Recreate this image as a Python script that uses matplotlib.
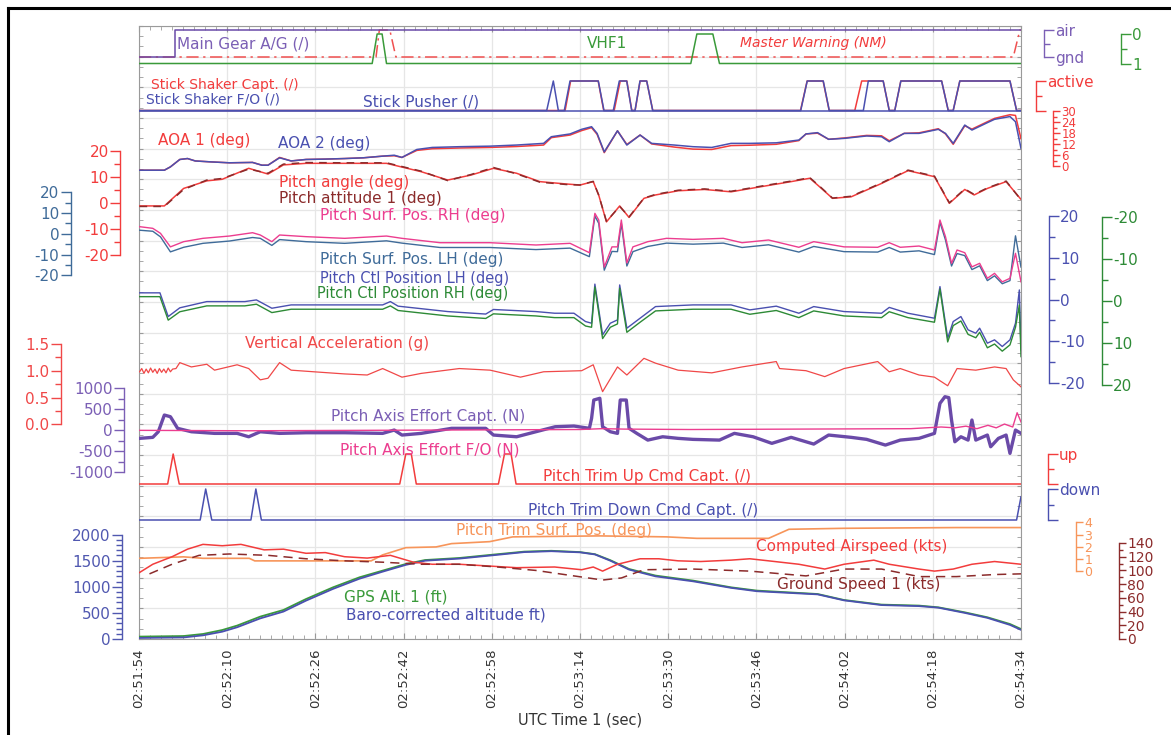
import numpy as np
import matplotlib.pyplot as plt
from matplotlib.lines import Line2D

plt.rcParams['axes.unicode_minus'] = False

# picture size and plot box (pixels of the 1171x735 picture)
W, H = 1171, 735
PX0, PX1, PY0, PY1 = 139, 1021, 26, 639

# ---------------- data (time in s after 02:51:54) ----------------
TIME_TICKS = np.arange(0, 161, 16)
TIME_LABELS = ['02:51:54', '02:52:10', '02:52:26', '02:52:42', '02:52:58', '02:53:14',
               '02:53:30', '02:53:46', '02:54:02', '02:54:18', '02:54:34']

GEAR_t = [0, 6.5, 6.5, 160]
GEAR_v = [0, 0, 1, 1]
MW_t = [0, 43.0, 43.6, 45.5, 46.6, 158.6, 159.8, 160]
MW_v = [0, 0, 1, 1, 0, 0, 1, 1]
VHF_t = [0, 42.3, 43.2, 44.1, 44.9, 100.1, 101.2, 104.1, 105.3, 160]
VHF_v = [1, 1, 0, 0, 1, 1, 0, 0, 1, 1]

SHK_FO_t = [0, 73.96, 75.16, 76.07, 77.15, 78.19, 83.32, 84.35, 86.04, 87.13, 88.47, 89.38,
            89.98, 90.88, 92.10, 93.19, 120.04, 121.22, 124.13, 125.22, 131.4, 132.3, 135.0, 136.1,
            137.1, 138.2, 145.6, 146.8, 147.7, 148.9, 158.0, 159.2, 160]
SHK_FO_v = [0, 0, 1, 0, 0, 1, 1, 0, 0, 1, 1, 0, 0, 1, 1, 0, 0, 1, 1, 0, 0, 1, 1, 0,
            0, 1, 1, 0, 0, 1, 1, 0, 0]
SHK_CPT_t = [0, 77.3, 78.3, 83.3, 84.3, 86.2, 87.3, 88.5, 89.4, 90.0, 90.9, 92.1, 93.2,
             120.0, 121.2, 124.1, 125.2, 129.85, 131.1, 135.0, 136.1, 137.1, 138.2, 145.6, 146.8,
             147.7, 148.9, 158.0, 159.2, 160]
SHK_CPT_v = [0, 0, 1, 1, 0, 0, 1, 1, 0, 0, 1, 1, 0, 0, 1, 1, 0, 0, 1, 1, 0, 0, 1, 1, 0,
             0, 1, 1, 0, 0]
PUSHER_t = [0, 160]
PUSHER_v = [0, 0]

AOA_t = [0.1, 4.6, 5.7, 7.4, 8.8, 10.2, 13.0, 16.4, 20.6, 22.3, 23.4, 25.5, 27.6, 30.3, 33.8,
         37.3, 40.7, 44.2, 46.3, 47.7, 50.4, 53.2, 58.1, 63.7, 68.5, 73.4, 74.8, 78.2, 80.3, 82.1,
         83.1, 84.4, 86.8, 88.5, 90.9, 93.0, 97.1, 100.5, 103.9, 107.4, 110.8, 115.6, 119.7, 121.0,
         123.1, 125.1, 127.9, 132.0, 134.7, 136.1, 138.8, 141.5, 145.0, 146.3, 147.7, 149.8, 151.1,
         153.9, 155.2, 158.0, 159.0, 160.0]
AOA2 = [-2.0, -2.0, -0.2, 3.8, 4.3, 3.0, 2.5, 2.0, 2.2, 0.7, 0.7, 4.7, 3.0, 3.8, 4.0, 4.3, 4.7,
        5.6, 6.1, 4.9, 9.2, 10.3, 10.7, 11.0, 11.6, 12.5, 16.1, 17.6, 20.1, 21.5, 17.9, 7.9, 19.3,
        11.6, 17.0, 12.5, 11.6, 10.7, 10.3, 12.5, 12.5, 12.8, 14.3, 17.6, 18.3, 14.7, 15.2, 16.5,
        16.1, 13.4, 17.9, 17.9, 20.1, 17.9, 12.5, 22.4, 19.7, 23.7, 25.5, 27.0, 24.2, 9.8]
AOA1 = [-2.0, -2.0, -0.2, 3.8, 4.3, 3.0, 2.5, 2.0, 2.2, 0.7, 0.7, 4.9, 3.0, 3.8, 4.0, 4.3, 4.7,
        5.6, 5.8, 4.9, 8.7, 9.6, 10.0, 10.3, 10.8, 11.6, 15.6, 17.0, 19.4, 21.0, 17.4, 7.5, 19.3,
        11.9, 17.0, 12.2, 10.5, 9.4, 9.2, 11.3, 11.5, 12.0, 14.0, 17.6, 18.0, 14.7, 15.4, 16.8,
        16.6, 13.9, 17.9, 18.2, 20.4, 17.6, 12.0, 22.0, 20.2, 24.2, 26.0, 28.0, 27.6, 15.0]

PITCH_t = [0.1, 4.6, 8.1, 12.3, 15.1, 19.9, 23.4, 26.2, 30.3, 37.3, 44.9, 51.2, 56.0, 60.2, 64.3,
           68.5, 72.7, 77.5, 80.0, 82.4, 83.4, 84.8, 87.2, 88.9, 91.6, 93.7, 97.8, 102.6, 107.4,
           112.1, 118.3, 121.7, 123.8, 125.8, 129.2, 134.7, 139.5, 144.3, 147.0, 149.8, 151.5,
           153.9, 157.3, 160.0]
PITCH_ANGLE = [-1.1, -1.1, 5.6, 8.5, 9.1, 13.3, 11.1, 14.6, 15.2, 15.2, 15.2, 12.0, 8.8, 10.7, 13.3,
               11.4, 8.2, 7.3, 6.9, 8.2, 3.0, -7.2, -1.1, -5.5, 1.8, 3.1, 4.7, 5.2, 4.3, 6.0, 8.2,
               9.5, 5.6, 1.8, 2.4, 7.5, 12.4, 10.1, -0.1, 5.2, 3.1, 5.6, 8.2, 1.4]
PITCH_ATT = [-1.3, -1.3, 5.2, 8.8, 9.4, 13.0, 11.4, 14.9, 15.5, 15.4, 15.4, 12.2, 8.6, 10.9, 13.6,
             11.2, 8.0, 7.1, 6.9, 8.3, 3.0, -7.0, -1.3, -5.3, 1.9, 3.3, 4.9, 5.4, 4.5, 6.2, 8.4,
             9.7, 5.8, 1.9, 2.6, 7.7, 12.6, 10.3, 0.1, 5.4, 3.3, 5.8, 8.4, 1.2]

SURF_t = [0.1, 2.5, 3.9, 5.7, 8.1, 11.6, 16.4, 20.6, 22.0, 24.1, 25.5, 30.3, 37.3, 44.9, 47.7,
          54.6, 63.7, 72.0, 78.2, 81.7, 82.7, 83.4, 84.4, 85.8, 86.8, 87.5, 88.5, 89.6, 92.3, 95.7,
          100.5, 106.0, 109.4, 114.2, 119.7, 122.4, 127.9, 134.0, 136.1, 138.1, 141.5, 144.3, 145.3,
          146.3, 147.4, 148.4, 149.8, 151.1, 152.5, 153.9, 155.2, 156.6, 158.0, 159.0, 160.0]
SURF_RH = [3.4, 2.6, 0.2, -6.3, -3.8, -2.2, -1.1, 0.5, -0.6, -3.8, -0.6, -1.4, -2.2, -1.1, -2.2,
           -4.3, -4.3, -5.4, -4.6, -9.1, 9.8, 6.6, -16.0, -6.3, -6.3, 6.6, -14.0, -6.3, -3.8, -2.2,
           -2.7, -2.2, -4.3, -3.0, -6.5, -3.8, -6.3, -6.5, -4.3, -6.5, -5.9, -7.8, 6.6, -1.4, -14.2,
           -7.8, -9.1, -15.9, -14.2, -21.4, -19.0, -23.1, -21.4, -9.4, -23.1]
SURF_LH = [1.7, 1.2, -1.5, -8.7, -6.5, -4.6, -3.5, -1.8, -2.2, -5.6, -2.8, -3.8, -4.6, -3.4, -4.5,
           -6.6, -6.6, -7.6, -6.9, -11.0, 8.5, 5.0, -17.5, -8.5, -8.6, 5.0, -15.5, -8.6, -6.1, -4.5,
           -5.0, -4.5, -6.6, -5.3, -8.8, -6.1, -8.6, -8.8, -6.6, -8.8, -8.2, -10.0, 5.5, -3.0, -15.5,
           -9.5, -10.5, -17.2, -15.4, -22.5, -20.2, -24.0, -22.5, -1.0, -16.0]

CTL_t = [0.1, 3.8, 5.3, 7.4, 12.3, 19.2, 21.3, 24.1, 27.6, 37.3, 44.2, 45.6, 47.0, 56.0, 62.9,
         64.3, 72.0, 75.4, 78.9, 81.0, 82.1, 82.7, 84.1, 85.5, 86.8, 87.2, 88.5, 90.9, 93.7, 100.5,
         107.4, 110.8, 115.6, 119.7, 122.4, 127.9, 134.7, 136.1, 139.5, 144.3, 145.3, 146.7, 147.7,
         149.1, 150.4, 151.8, 152.5, 153.9, 155.2, 156.6, 158.0, 159.0, 159.7, 160.0]
CTL_LH = [1.6, 1.6, -4.1, -2.0, -0.5, -0.5, -0.1, -2.1, -1.3, -1.3, -1.3, -0.5, -1.6, -2.9, -3.5,
          -2.4, -2.9, -3.3, -3.3, -5.3, -5.7, 3.7, -8.5, -5.7, -4.9, 3.5, -6.9, -4.5, -1.7, -1.3,
          -1.3, -2.5, -1.6, -3.3, -1.7, -2.9, -3.3, -1.9, -3.3, -4.5, 3.1, -9.3, -5.3, -4.1, -7.3,
          -8.1, -6.9, -10.5, -9.7, -11.3, -9.7, -5.7, 2.3, -12.1]
CTL_RH = [-1.0, -1.0, 4.6, 2.6, 1.2, 1.2, 0.8, 2.8, 2.0, 2.0, 2.0, 1.2, 2.3, 3.6, 4.2, 3.1, 3.6,
          4.0, 4.0, 6.0, 6.3, -3.3, 9.0, 6.3, 5.5, -3.0, 7.5, 5.1, 2.4, 2.0, 2.0, 3.2, 2.3, 4.0,
          2.4, 3.6, 4.0, 2.6, 4.0, 5.1, -2.8, 9.8, 5.9, 4.8, 8.0, 8.8, 7.5, 11.2, 10.3, 12.0, 10.5,
          6.3, 1.0, 13.3]

ACC_t = [0.1, 0.5, 0.9, 1.3, 1.7, 2.1, 2.5, 2.9, 3.3, 3.7, 4.1, 4.5, 4.9, 5.3, 5.7, 6.1, 6.7,
         7.4, 9.5, 12.3, 13.7, 17.8, 19.9, 22.0,
         23.4, 25.5, 27.6, 31.7, 37.3, 41.4, 44.2, 47.7, 51.2, 58.1, 63.7, 69.2, 73.4, 80.3, 82.4,
         84.1, 86.8, 88.5, 91.6, 93.7, 97.8, 103.9, 109.4, 115.6, 116.2, 121.0, 124.4, 127.9, 134.0,
         136.1, 138.1, 141.5, 144.3, 146.7, 148.4, 151.8, 155.2, 157.3, 158.6, 160.0]
VERT_ACC = [0.98, 1.04, 0.95, 1.03, 0.96, 1.05, 0.97, 1.03, 0.95, 1.04, 0.97, 1.03, 0.96, 1.05,
            0.98, 1.03, 1.04, 1.15, 1.07, 1.12, 1.01,
            1.11, 1.04, 0.83, 0.86, 1.15, 1.01, 0.98, 0.94, 0.92, 1.04, 0.88, 0.95, 1.04, 1.01,
            0.88, 0.98, 1.00, 1.11, 0.61, 1.07, 0.92, 1.23, 1.14, 1.01, 0.96, 1.07, 1.17, 1.04,
            1.00, 0.89, 1.04, 1.17, 0.98, 1.04, 0.92, 0.88, 0.72, 1.04, 1.01, 1.07, 1.04, 0.83, 0.70]

EFF_t = [0.1, 2.5, 3.5, 4.6, 5.7, 7.0, 9.5, 13.7, 17.8, 19.9, 22.0, 25.5, 30.3, 37.3, 44.2, 46.3,
         47.7, 51.2, 56.7, 62.9, 64.3, 68.5, 72.0, 75.5, 78.9, 81.7, 82.1, 82.5, 83.6, 84.1, 85.5,
         86.8, 87.3, 88.4, 88.9, 90.3, 92.3, 95.0, 97.8, 100.5, 105.3, 108.0, 111.4, 114.8, 118.3,
         122.4, 125.1, 129.2, 132.0, 135.4, 138.1, 141.5, 144.3, 145.3, 146.2, 146.9, 147.4, 148.0,
         149.1, 150.4, 151.1, 151.8, 153.9, 154.5, 155.9, 157.3, 158.0, 159.0, 160.0]
EFF_CAPT = [-191, -167, -33, 365, 325, 48, -33, -72, -72, -153, -33, -72, -57, -57, -72, 7, -112,
            -72, 48, 48, -112, -153, -33, 86, 103, 48, 286, 723, 764, 86, -33, -72, 723, 723, 48,
            -72, -232, -153, -191, -215, -232, -72, -153, -310, -167, -327, -112, -167, -215, -351,
            -232, -191, -72, 644, 802, 780, 246, -272, -153, -232, 246, -232, -112, -391, -191,
            -112, -549, 7, -72]
EFF_FO_t = [0, 20, 40, 60, 80, 84, 88, 100, 120, 140, 145.5, 148, 150, 152, 154, 155.5, 157,
            158.5, 159.3, 160]
EFF_FO = [0, -10, 0, 10, 20, 40, 30, 20, 30, 40, 80, 60, 100, 40, 120, 60, 150, 80, 420, 200]

TRIM_UP_t = [0, 5.2, 6.2, 7.3, 47.3, 48.4, 49.4, 50.3, 65.2, 66.3, 67.5, 68.4, 160]
TRIM_UP_v = [0, 0, 1, 0, 0, 1, 1, 0, 0, 1, 1, 0, 0]
TRIM_DN_t = [0, 11.1, 12.1, 13.2, 20.3, 21.2, 22.2, 159.2, 160]
TRIM_DN_v = [0, 0, 1, 0, 0, 1, 0, 0, 0.75]

TRIM_SURF_t = [0.1, 8.1, 11.6, 20.0, 21.0, 42.1, 44.2, 48.4, 53.9, 56.7, 63.6, 67.8, 83.6, 95.7,
               101.2, 114.2, 117.9, 127.9, 148.3, 160.0]
TRIM_SURF = [1.06, 1.18, 1.06, 1.06, 0.85, 0.85, 1.34, 1.93, 1.99, 2.26, 2.42, 2.81, 2.89, 2.81,
             2.69, 2.69, 3.43, 3.51, 3.57, 3.57]

ALT_t = [0.1, 8.1, 11.6, 15.1, 17.8, 22.0, 26.2, 30.3, 35.2, 40.0, 44.2, 48.4, 51.9, 58.1, 64.3,
         69.9, 74.8, 80.0, 82.7, 85.5, 88.9, 93.7, 100.5, 107.4, 112.1, 117.6, 123.1, 127.9, 134.7,
         141.5, 145.0, 149.8, 153.9, 158.0, 160.0]
GPS_ALT = [46, 57, 96, 172, 257, 429, 556, 766, 990, 1182, 1310, 1437, 1513, 1552, 1617, 1674,
           1690, 1665, 1625, 1510, 1341, 1215, 1119, 990, 927, 895, 862, 747, 659, 640, 607, 511,
           416, 287, 192]
BARO_ALT = [20, 30, 70, 140, 225, 395, 525, 735, 960, 1155, 1290, 1420, 1500, 1540, 1605, 1665,
            1682, 1660, 1620, 1500, 1330, 1200, 1105, 980, 915, 885, 855, 740, 650, 630, 600, 500,
            405, 270, 175]

CAS_t = [0.1, 2.5, 6.0, 8.8, 11.6, 15.1, 18.5, 22.7, 26.2, 30.3, 33.8, 37.3, 41.4, 45.6, 49.8,
         53.2, 58.1, 62.3, 68.5, 75.4, 80.3, 82.4, 84.1, 86.8, 90.9, 94.3, 97.8, 101.9, 107.4,
         110.8, 114.2, 119.7, 124.4, 127.9, 133.3, 136.1, 141.5, 144.3, 147.7, 151.1, 155.2, 160.0]
CAS = [97, 109, 120, 131, 138, 136, 138, 130, 131, 125, 126, 120, 118, 122, 112, 109, 109, 107,
       104, 105, 101, 105, 99, 109, 117, 117, 114, 113, 115, 117, 114, 109, 102, 109, 115, 109,
       102, 99, 102, 109, 113, 109]
GS_t = [1.9, 6.0, 10.9, 16.4, 23.4, 30.3, 37.3, 44.2, 51.2, 58.1, 65.0, 72.0, 78.9, 84.1, 87.5,
        91.6, 100.5, 110.8, 121.0, 127.9, 134.7, 141.5, 148.3, 155.2, 160.0]
GS = [95, 109, 122, 124, 122, 117, 114, 112, 109, 109, 105, 100, 92, 86, 89, 101, 102, 99, 92,
      102, 102, 91, 91, 94, 95]

# ---------------- colours ----------------
RED = '#f23c3c'
BLUE = '#4a50b0'
PURPLE = '#6a4aa8'
GREEN = '#3a9a3a'
DKGREEN = '#2d8a36'
PINK = '#ec3d8f'
STEEL = '#3f6b99'
DKRED = '#8b2b2b'
ORANGE = '#f7955a'

fig = plt.figure(figsize=(W / 100, H / 100), dpi=100)
BOX = [PX0 / W, 1 - PY1 / H, (PX1 - PX0) / W, (PY1 - PY0) / H]

base = fig.add_axes(BOX)
base.set_xlim(0, 160)
base.set_ylim(0, 20)
base.set_xticks(TIME_TICKS)
base.set_xticklabels(TIME_LABELS, rotation=90, fontsize=9.5, color='#333333')
base.set_xticks(np.arange(0, 161, 2), minor=True)
base.set_yticks(np.arange(0, 21))
base.set_yticks(np.arange(0, 20.01, 1 / 3), minor=True)
base.tick_params(axis='both', which='both', direction='in', color='#9a9a9a',
                 top=True, right=True, labelleft=False)
base.tick_params(axis='x', which='major', length=4, pad=7)
base.tick_params(axis='x', which='minor', length=3)
base.tick_params(axis='y', which='both', length=3)
base.grid(True, which='major', color='#e6e6e6', lw=0.9)
for s in base.spines.values():
    s.set_color('#9a9a9a')


def overlay(v1, y1, v2, y2):
    # transparent axes over the plot box, value v1 at pixel row y1, v2 at y2
    ax = fig.add_axes(BOX)
    ax.patch.set_alpha(0)
    ax.set_xlim(0, 160)
    k = (v2 - v1) / (y2 - y1)
    ax.set_ylim(v1 + (PY1 - y1) * k, v1 + (PY0 - y1) * k)
    for s in ax.spines.values():
        s.set_visible(False)
    ax.tick_params(axis='x', which='both', bottom=False, labelbottom=False)
    ax.tick_params(axis='y', which='both', left=False, labelleft=False)
    return ax


def scale(ax, side, xpix, major, minor, color, labels=None, size=11):
    sp = ax.spines[side]
    sp.set_visible(True)
    sp.set_position(('axes', (xpix - PX0) / (PX1 - PX0)))
    sp.set_bounds(min(major), max(major))
    sp.set_color(color)
    sp.set_linewidth(1)
    ax.set_yticks(major)
    if labels is not None:
        ax.set_yticklabels(labels)
    ax.set_yticks(minor, minor=True)
    left = side == 'left'
    ax.tick_params(axis='y', which='both', left=left, labelleft=left, right=not left,
                   labelright=not left, direction='out', colors=color, width=1,
                   labelsize=size, pad=1)
    ax.tick_params(axis='y', which='major', length=7)
    ax.tick_params(axis='y', which='minor', length=4)


# top panel: gear, master warning, VHF
ax = overlay(0, 57, 1, 30)
scale(ax, 'right', 1044, [0, 1], [0.5], '#7b5fb5', ['gnd', 'air'])
ax.plot(MW_t, MW_v, color='#f05050', lw=1.1, ls=(0, (8, 3, 1.5, 3)))
ax.plot(GEAR_t, GEAR_v, color=PURPLE, lw=1.1)
ax = overlay(0, 34, 1, 63.5)
scale(ax, 'right', 1121, [0, 1], [0.5], GREEN, ['0', '1'])
ax.plot(VHF_t, VHF_v, color=GREEN, lw=1.1)

# stick shaker / pusher
ax = overlay(0, 110.5, 1, 81)
scale(ax, 'right', 1036, [0, 1], [0.5], RED, ['', 'active'])
ax.plot(SHK_CPT_t, SHK_CPT_v, color=RED, lw=1.1)
ax.plot(SHK_FO_t, SHK_FO_v, color=BLUE, lw=1.1)
ax.plot(PUSHER_t, PUSHER_v, color=BLUE, lw=1.1)

# AOA
ax = overlay(0, 166.5, 30, 111)
scale(ax, 'right', 1053, list(range(0, 31, 6)), list(range(3, 30, 6)), RED, size=8.5)
ax.tick_params(axis='y', which='major', length=5)
ax.tick_params(axis='y', which='minor', length=3)
ax.plot(AOA_t, AOA1, color=RED, lw=1.1)
ax.plot(AOA_t, AOA2, color=BLUE, lw=1.1)

# pitch angle / attitude
ax = overlay(-20, 255.3, 20, 150.8)
scale(ax, 'left', 120, [-20, -10, 0, 10, 20], [-15, -5, 5, 15], RED)
ax.plot(PITCH_t, PITCH_ANGLE, color=RED, lw=1.1)
ax.plot(PITCH_t, PITCH_ATT, color=DKRED, lw=1.1, ls=(0, (5, 4)))

# pitch surface positions
ax = overlay(-20, 275.4, 20, 192.1)
scale(ax, 'left', 70.5, [-20, -10, 0, 10, 20], [-15, -5, 5, 15], STEEL)
ax.plot(SURF_t, SURF_LH, color=STEEL, lw=1.0)
ax.plot(SURF_t, SURF_RH, color=PINK, lw=1.0)

# pitch control positions
ax = overlay(-20, 382.7, 20, 216.3)
scale(ax, 'right', 1049, [-20, -10, 0, 10, 20], [-15, -5, 5, 15], BLUE)
ax.plot(CTL_t, CTL_LH, color=BLUE, lw=1.0)
ax = overlay(-20, 217, 20, 384.7)
scale(ax, 'right', 1102, [-20, -10, 0, 10, 20], [-15, -5, 5, 15], DKGREEN)
ax.plot(CTL_t, CTL_RH, color=DKGREEN, lw=1.0)

# vertical acceleration
ax = overlay(0, 424.5, 1.5, 343.8)
scale(ax, 'left', 60.5, [0.0, 0.5, 1.0, 1.5], [0.25, 0.75, 1.25], '#f04848')
ax.plot(ACC_t, VERT_ACC, color='#f04848', lw=0.9)

# pitch axis effort
ax = overlay(-1000, 472.3, 1000, 388.4)
scale(ax, 'left', 124, [-1000, -500, 0, 500, 1000], [-750, -250, 250, 750], '#7b5fb5')
ax.plot(EFF_t, EFF_CAPT, color=PURPLE, lw=2.4)
ax.plot(EFF_FO_t, EFF_FO, color=PINK, lw=1.0)

# pitch trim commands
ax = overlay(0, 484, 1, 454)
scale(ax, 'right', 1048, [0, 1], [0.5], RED, ['', 'up'])
ax.plot(TRIM_UP_t, TRIM_UP_v, color=RED, lw=1.1)
ax = overlay(0, 520, 1, 489)
scale(ax, 'right', 1048, [0, 1], [0.5], BLUE, ['', 'down'])
ax.plot(TRIM_DN_t, TRIM_DN_v, color=BLUE, lw=1.1)

# bottom panel: altitude, trim surface, speeds
ax = overlay(0, 639, 2000, 534.6)
scale(ax, 'left', 121.5, [0, 500, 1000, 1500, 2000],
      [v for v in range(100, 2000, 100) if v % 500], '#5058b0')
ax.plot(ALT_t, GPS_ALT, color=GREEN, lw=1.3)
ax.plot(ALT_t, BARO_ALT, color=BLUE, lw=1.3)
ax = overlay(0, 571.3, 4, 522.3)
scale(ax, 'right', 1076, [0, 1, 2, 3, 4], [], ORANGE, size=9)
ax.tick_params(axis='y', which='major', length=5)
ax.plot(TRIM_SURF_t, TRIM_SURF, color=ORANGE, lw=1.2)
ax = overlay(0, 639, 140, 543)
scale(ax, 'right', 1119, list(range(0, 141, 20)), list(range(10, 140, 20)), DKRED, size=10)
ax.tick_params(axis='y', which='major', length=5)
ax.tick_params(axis='y', which='minor', length=3)
ax.plot(CAS_t, CAS, color=RED, lw=1.1)
ax.plot(GS_t, GS, color=DKRED, lw=1.1, ls=(0, (6, 4)))


def label(x, y, s, color, size=11, **kw):
    fig.text(x / W, 1 - y / H, s, color=color, fontsize=size, ha='left', va='center', **kw)


label(177, 44, 'Main Gear A/G (/)', '#7b5fb5')
label(587, 44, 'VHF1', GREEN)
label(740, 43, 'Master Warning (NM)', RED, size=10, style='italic')
label(151, 85, 'Stick Shaker Capt. (/)', RED, size=10)
label(146, 99.5, 'Stick Shaker F/O (/)', BLUE, size=10)
label(363, 102, 'Stick Pusher (/)', BLUE)
label(158, 140, 'AOA 1 (deg)', RED)
label(278, 143.5, 'AOA 2 (deg)', BLUE)
label(279, 182.5, 'Pitch angle (deg)', RED)
label(279, 199, 'Pitch attitude 1 (deg)', DKRED)
label(320, 215.5, 'Pitch Surf. Pos. RH (deg)', PINK)
label(320, 260, 'Pitch Surf. Pos. LH (deg)', STEEL)
label(320, 278.5, 'Pitch Ctl Position LH (deg)', BLUE, size=10.5)
label(317, 293.5, 'Pitch Ctl Position RH (deg)', DKGREEN, size=10.5)
label(245, 343.5, 'Vertical Acceleration (g)', '#f04848')
label(331, 417, 'Pitch Axis Effort Capt. (N)', '#7b5fb5')
label(340, 450.5, 'Pitch Axis Effort F/O (N)', PINK)
label(543, 477, 'Pitch Trim Up Cmd Capt. (/)', RED)
label(528, 510.5, 'Pitch Trim Down Cmd Capt. (/)', BLUE)
label(456, 531, 'Pitch Trim Surf. Pos. (deg)', ORANGE)
label(756, 547, 'Computed Airspeed (kts)', RED)
label(777, 584, 'Ground Speed 1 (kts)', DKRED)
label(344, 597.5, 'GPS Alt. 1 (ft)', GREEN)
label(346, 615, 'Baro-corrected altitude ft)', BLUE)

fig.text(580 / W, 1 - 720 / H, 'UTC Time 1 (sec)', ha='center', va='center',
         fontsize=10.5, color='#333333')

# outer frame of the page (left and top edges)
fig.add_artist(Line2D([8 / W, 8 / W], [0, 1 - 8 / H], color='black', lw=2.2))
fig.add_artist(Line2D([8 / W, 1], [1 - 8 / H, 1 - 8 / H], color='black', lw=2.2))

fig.savefig('out.png', dpi=100)
